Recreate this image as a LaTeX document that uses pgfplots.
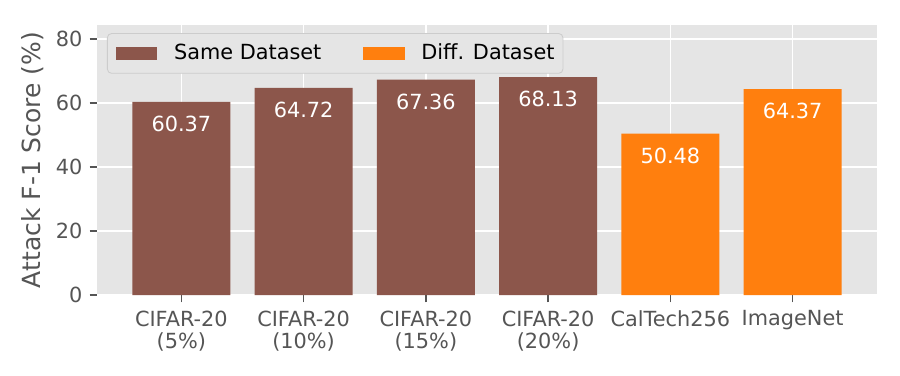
\documentclass[border=0pt]{standalone}
\usepackage{fontspec}
\setmainfont{DejaVu Sans}
\usepackage{pgfplots}
\pgfplotsset{compat=1.18}

\definecolor{samebrown}{HTML}{8C564B}
\definecolor{difforange}{HTML}{FF7F0E}
\definecolor{panel}{HTML}{E5E5E5}
\definecolor{ticktext}{HTML}{555555}

\pgfplotsset{
    barlegend/.style={legend image code/.code={\fill[##1, sharp corners] (0pt,-3.3pt) rectangle (20pt,3.3pt);}},
}

\begin{document}
\begin{tikzpicture}
\useasboundingbox (0,0) rectangle (432pt,180pt);
\begin{axis}[
    at={(46.56pt,38.4pt)}, anchor=south west,
    width=374.4pt, height=129.6pt, scale only axis,
    xmin=-0.69, xmax=5.69, ymin=0, ymax=84.4,
    axis background/.style={fill=panel},
    axis line style={draw=none},
    ybar, bar width=0.8, bar shift=0pt,
    xtick={0,1,2,3,4,5},
    xticklabels={{CIFAR-20\\(5\%)},{CIFAR-20\\(10\%)},{CIFAR-20\\(15\%)},{CIFAR-20\\(20\%)},CalTech256,ImageNet},
    xticklabel style={align=center, text=ticktext, font=\fontsize{10}{10.5}\selectfont, anchor=north, yshift=-0.5pt},
    ytick={0,20,40,60,80},
    yticklabel style={text=ticktext, font=\fontsize{10}{12}\selectfont},
    /pgf/number format/assume math mode=true,
    grid=major, major grid style={white, line width=0.8pt},
    tick align=outside, tick pos=left, major tick length=3.5pt,
    tick style={ticktext, line width=0.8pt},
    ylabel={Attack F-1 Score (\%)},
    ylabel style={at={(axis description cs:-0.0822,0.5)}, anchor=center, text=ticktext, font=\fontsize{12}{14}\selectfont},
    nodes near coords,
    nodes near coords style={text=white, anchor=center, yshift=-10.6pt, font=\fontsize{10}{12}\selectfont,
        /pgf/number format/.cd, fixed, precision=2, fixed zerofill, assume math mode=true},
    legend columns=2,
    legend style={at={(0.0128,0.970)}, anchor=north west, draw=black!20, fill=panel,
        rounded corners=2pt, text=black, font=\fontsize{10}{12}\selectfont,
        inner xsep=4pt, inner ysep=3pt,
        nodes={inner xsep=0pt},
        /tikz/every odd column/.append style={column sep=8pt},
        /tikz/every even column/.append style={column sep=20pt}},
]
\addplot[fill=samebrown, draw=none, barlegend]
    coordinates {(0,60.37) (1,64.72) (2,67.36) (3,68.13)};
\addlegendentry{Same Dataset}
\addplot[fill=difforange, draw=none, barlegend]
    coordinates {(4,50.48) (5,64.37)};
\addlegendentry{Diff. Dataset}
\end{axis}
\end{tikzpicture}
\end{document}
